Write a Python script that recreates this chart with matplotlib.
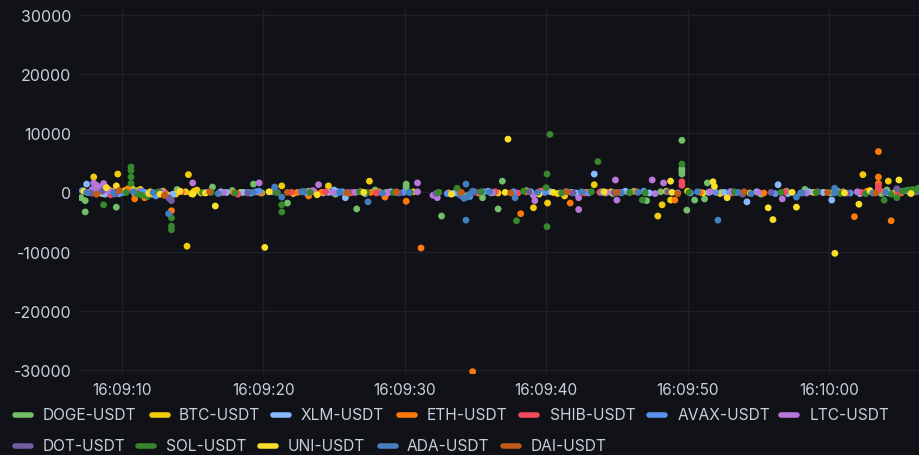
import numpy as np
import pandas as pd
import matplotlib
matplotlib.use("Agg")
import matplotlib.pyplot as plt
from matplotlib.lines import Line2D
import matplotlib.dates as mdates

plt.rcParams['font.family'] = ['Inter', 'DejaVu Sans']
plt.rcParams['axes.unicode_minus'] = False

base = pd.Timestamp('2024-01-01 16:09:00')

# times are seconds after 16:09:00
doge_t = [7.1, 7.4, 7.4, 9.6, 26.6, 30.1, 30.1, 32.6, 35.5, 36.6, 36.9, 47.1, 49.6, 49.6, 49.6, 49.6, 49.95, 50.5, 51.2, 51.4, 21.7, 11.0, 13.9, 16.4, 19.3,
          8.0, 12.3, 15.1, 17.8, 19.9, 23.2, 25.1, 27.9, 29.4, 33.8, 38.6, 41.0, 43.9, 46.2, 53.4, 55.2, 58.3, 61.0, 63.7, 65.5,
          10.1, 14.0, 16.9, 22.9, 28.7, 36.1, 39.7, 42.9, 44.7, 48.1, 52.4, 57.0, 60.1, 64.1]
doge_v = [-900, -1400, -3300, -2500, -2800, 1400, 900, -4000, -900, -2800, 1900, -1400, 8800, 4000, 3100, 3600, -3000, -1300, -1100, 1600, -1800, 300, 500, 900, 1400,
          100, -200, 0, 300, -100, 200, -300, 400, 0, -200, 300, -100, 100, 200, 0, -300, 500, 100, -200, 300,
          0, 200, -100, 100, 0, -100, 200, 0, -200, 100, 0, 200, -100, 400]

btc_t = [8.0, 9.7, 14.7, 14.6, 21.3, 24.6, 27.5, 39.1, 40.1, 41.3, 47.9, 48.2, 48.8, 62.4, 64.2, 43.4, 10.7, 11.3,
         10.2, 10.9, 12.1, 12.5, 12.9, 13.2, 14.5, 14.9, 15.3, 15.6, 18.4, 22.1, 26.9, 33.1, 40.8, 44.6, 48.5, 51.1, 52.3, 58.9, 62.9, 64.6, 66.0,
         8.6, 9.1, 12.0, 13.0, 13.8, 15.1, 24.3, 30.6, 36.6, 45.9, 50.0, 54.4, 59.6]
btc_v = [2600, 3100, 3000, -9100, 1100, 1100, 1900, -2600, -1800, -600, -4000, -2100, -1300, 3000, 1900, 1300, 700, 500,
         300, -200, -300, -100, 200, -400, 100, -200, 400, -100, 0, -200, 100, -100, -200, 100, 200, -100, -200, 0, 200, -100, 100,
         -200, 400, 100, 0, -300, 200, 0, 100, -100, 0, 200, -100, 0]

xlm_t = [25.0, 25.8, 43.4, 54.2, 56.4, 60.2, 7.5,
         7.6, 8.3, 9.0, 9.8, 11.6, 13.6, 17.4, 19.1, 19.5, 24.2, 25.3, 27.2, 29.0, 33.5, 35.9, 36.3, 38.9, 41.8, 42.1, 45.6, 49.3, 52.6, 54.9, 57.1, 59.6, 60.6, 64.2,
         8.0, 8.8, 17.0, 18.6, 24.6, 40.3, 47.3, 51.5, 58.6, 62.2]
xlm_v = [400, -900, 3100, -1600, 1300, -1300, 1400,
         0, -100, 100, -200, 0, -300, 0, -100, 100, -100, 100, -200, 100, -100, 200, 0, 100, 0, -100, 200, -100, 0, 100, -200, 0, 200, -100,
         200, -300, 100, 0, 0, 100, -100, 0, 100, -200]

eth_t = [13.5, 28.6, 30.1, 31.15, 34.8, 38.2, 41.7, 49.1, 61.8, 63.5, 63.5, 63.5, 64.4, 11.6, 23.2, 10.9,
         9.3, 10.4, 11.0, 17.9, 19.8, 22.4, 23.6, 24.1, 26.1, 27.6, 28.2, 33.9, 35.2, 38.6, 42.8, 44.2, 46.4, 50.9, 55.4, 60.9, 62.7, 63.9, 65.1]
eth_v = [-3100, -800, -1500, -9400, -30300, -3600, -1800, -1300, -4100, 6900, 2600, 1500, -4800, -900, -600, -1100,
         200, 600, -200, 0, -100, 0, 100, 0, -100, 0, 100, 0, -100, 100, 0, -100, 100, 0, -100, 0, 200, 100, -100]

shib_t = [49.6, 63.5, 63.5, 8.5, 9.2, 11.3, 13.0, 14.2, 18.2, 22.0, 24.4, 26.3, 28.0, 32.4, 36.4, 38.0, 39.6, 42.7, 43.8, 49.6, 53.1, 56.9, 62.3, 63.5, 64.9]
shib_v = [1800, 1100, 600, 400, -400, 200, -100, 100, -300, 0, 100, 0, -100, 0, 100, -100, 200, -100, 0, 1200, -100, 100, 0, 400, -100]

avax_t = [7.2, 8.1, 9.9, 11.7, 12.4, 13.4, 16.0, 19.7, 23.0, 25.6, 29.9, 33.0, 34.1, 34.6, 37.7, 39.9, 43.0, 46.9, 50.2, 52.0, 56.2, 60.6, 61.5, 65.7,
          7.9, 11.4, 18.9, 25.2, 35.6, 44.0, 53.0, 58.0]
avax_v = [300, 0, -100, -400, -600, -1100, 0, 200, 0, 100, 0, -200, -400, -700, 100, 0, -100, 200, -100, 0, -200, 100, -100, 0,
          -100, 200, 0, -100, 100, 0, 100, -100]

ltc_t = [15.0, 19.7, 30.9, 30.9, 23.9, 8.0, 8.7, 8.8, 44.9, 48.3, 47.5, 39.2, 42.3, 45.0, 56.7, 42.3, 32.3,
         7.9, 8.4, 9.0, 12.8, 17.2, 20.6, 23.5, 24.9, 28.8, 32.0, 34.9, 36.2, 41.4, 44.3, 47.7, 51.6, 55.0, 58.4, 62.0, 65.2,
         8.2, 8.6, 9.3, 26.5, 39.1, 45.3, 53.1]
ltc_v = [1600, 1600, 1600, 100, 1300, 1600, 1500, 1000, 2100, 1600, 2100, -1400, -2900, -1300, -1100, -900, -900,
         500, 900, 300, 100, 0, 100, 300, 0, -100, -500, 100, 0, 100, 0, -200, 100, 0, -100, 100, 200,
         1200, 700, 100, 0, -500, 0, 100]

dot_t = [7.8, 8.6, 9.5, 13.3, 13.5, 18.9, 21.0, 22.8, 26.0, 29.6, 32.2, 35.0, 38.8, 41.9, 44.8, 48.6, 53.9, 55.9, 59.2, 61.3, 64.8, 66.2]
dot_v = [-100, 200, -300, -900, -1400, -100, 0, 100, 0, -100, -200, 0, 100, -100, 0, 100, -300, 0, 100, -100, 600, 100]

sol_t = [10.64, 10.64, 10.64, 10.64, 8.7, 13.5, 13.5, 13.5, 21.3, 21.3, 30.4, 33.7, 40.27, 43.66, 40.06, 37.9, 40.06, 46.8, 49.6, 63.9, 65.9, 66.1,
         10.3, 11.1, 11.8, 16.3, 18.0, 20.9, 23.3, 26.8, 29.2, 32.4, 35.4, 38.4, 40.0, 41.1, 45.9, 47.0, 50.1, 53.3, 56.6, 59.1, 62.6, 64.4, 65.6, 66.3,
         11.4, 12.6, 15.7, 27.3, 43.2, 60.8, 64.8, 65.2]
sol_v = [4300, 3700, 2600, 1500, -2100, -4300, -5700, -6300, -2100, -3300, 0, 700, 9800, 5200, 3100, -4800, -5800, -1300, 4800, -1300, 500, 300,
         0, -300, -700, 0, -100, 0, 0, 100, 0, 0, 100, 200, 800, -100, 0, -100, 0, 100, 0, 0, -200, -300, 400, 700,
         -500, 100, 0, 0, 100, -200, -900, 200]

uni_t = [16.6, 20.1, 37.3, 48.8, 55.7, 56.04, 57.7, 60.42, 62.12, 64.95, 52.8,
         7.3, 8.9, 9.6, 11.9, 12.7, 14.1, 15.0, 15.9, 20.4, 23.8, 27.1, 33.3, 34.5, 37.1, 39.5, 40.5, 44.1, 48.9, 51.8, 51.9, 57.4, 61.1, 62.9, 65.8]
uni_v = [-2300, -9300, 9000, 1900, -2600, -4600, -2500, -10300, -2000, 2100, -900,
         200, 800, 1100, -200, -300, 200, -300, -100, 100, -400, 0, -300, -500, 0, -300, 0, 100, 0, 1800, 1000, 0, -100, 300, -200]

ada_t = [13.3, 21.3, 20.8, 27.4, 34.33, 34.33, 37.8, 52.15, 57.7, 60.4, 60.4, 33.9, 34.0, 34.2, 34.4, 34.6, 34.8,
         7.5, 9.4, 10.8, 12.2, 16.8, 19.3, 22.7, 25.4, 28.4, 30.3, 36.0, 39.4, 42.5, 45.3, 46.5, 50.7, 53.6, 54.5, 58.1, 63.1, 64.0]
ada_v = [-3600, -800, 900, -1600, 1400, -4700, -900, -4700, -800, -100, 700, -200, -600, -1000, -800, -300, 200,
         0, -100, 100, 0, -200, 0, 100, 0, -100, 0, 100, 0, 100, -100, 0, 100, 0, -200, -100, -100, 0]

dai_t = [8.2, 9.8, 13.0, 16.2, 21.7, 25.9, 29.4, 34.0, 37.5, 41.5, 45.0, 49.3, 54.0, 59.9, 63.3]
dai_v = [-300, 300, -500, 100, 0, -100, 100, 0, -100, 100, 0, -200, 100, 0, -100]

names = ['DOGE-USDT', 'BTC-USDT', 'XLM-USDT', 'ETH-USDT', 'SHIB-USDT', 'AVAX-USDT', 'LTC-USDT',
         'DOT-USDT', 'SOL-USDT', 'UNI-USDT', 'ADA-USDT', 'DAI-USDT']
colors = ['#73BF69', '#F2CC0C', '#8AB8FF', '#FF780A', '#F2495C', '#5794F2', '#B877D9',
          '#705DA0', '#37872D', '#FADE2A', '#447EBC', '#C15C17']
series = [(doge_t, doge_v), (btc_t, btc_v), (xlm_t, xlm_v), (eth_t, eth_v), (shib_t, shib_v),
          (avax_t, avax_v), (ltc_t, ltc_v), (dot_t, dot_v), (sol_t, sol_v), (uni_t, uni_v),
          (ada_t, ada_v), (dai_t, dai_v)]

bg = '#111217'
txt = '#c7d0d9'

fig = plt.figure(figsize=(9.2, 4.56), dpi=100, facecolor=bg)
ax = fig.add_axes([79/920, 1 - 375/456, 841/920, 365/456], facecolor=bg)

for (t, v), c in zip(series, colors):
    ts = base + pd.to_timedelta(np.array(t), unit='s')
    ax.scatter(ts, v, s=24, color=c, edgecolors='none', zorder=3)

ax.set_xlim(base + pd.Timedelta(seconds=6.96), base + pd.Timedelta(seconds=66.44))
ax.set_ylim(-30700, 31000)
ax.set_yticks([-30000, -20000, -10000, 0, 10000, 20000, 30000])
ax.xaxis.set_major_locator(mdates.SecondLocator(bysecond=range(0, 60, 10)))
ax.xaxis.set_major_formatter(mdates.DateFormatter('%H:%M:%S'))

ax.grid(True, color='#1f2126', linewidth=1)
ax.set_axisbelow(True)
for s in ax.spines.values():
    s.set_visible(False)
ax.tick_params(axis='x', colors=txt, labelsize=11, length=0, pad=6)
ax.tick_params(axis='y', colors=txt, labelsize=11.5, length=0, pad=5.5)

# legend, laid out like the dashboard's
row1 = [(15, 43), (152, 179), (273, 301), (399, 427), (521, 550), (649, 678), (781, 810)]
row2 = [(15, 43), (138, 166), (260, 288), (380, 407), (503, 531)]
pos = [(a, b, 416) for a, b in row1] + [(a, b, 447) for a, b in row2]
for (lx, tx, ly), name, c in zip(pos, names, colors):
    yf = 1 - ly / 456
    fig.add_artist(Line2D([lx / 920, (lx + 16) / 920], [yf, yf], transform=fig.transFigure,
                          color=c, linewidth=4, solid_capstyle='round'))
    fig.text(tx / 920, yf, name, color=txt, fontsize=11.2, va='center', ha='left')

fig.savefig('out.png', dpi=100, facecolor=bg)
